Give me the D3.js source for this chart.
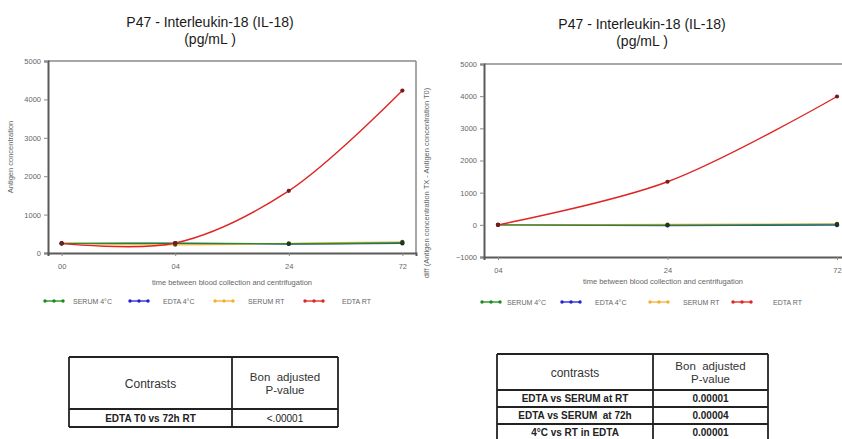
<!DOCTYPE html>
<html>
<head>
<meta charset="utf-8">
<script src="https://cdn.jsdelivr.net/npm/d3@7"></script>
<style>
  html, body { margin: 0; padding: 0; background: #fff; }
  svg { display: block; font-family: "Liberation Sans", Arial, sans-serif; }
</style>
</head>
<body>
<svg id="chart" width="842" height="439"></svg>
<script>
// ---------- DATA ----------
const seriesNames = ["SERUM 4°C", "EDTA 4°C", "SERUM RT", "EDTA RT"];
const seriesColors = ["#1a8a1a", "#1f1fd6", "#f2b134", "#e02424"];
const markerColors = ["#1e3a1e", "#1e1e55", "#5a4a1a", "#7a1a1a"];

// Left chart: raw concentrations
const leftTimes = ["00", "04", "24", "72"];
const leftSerum4C = [250, 255, 240, 265];
const leftEdta4C = [245, 250, 235, 250];
const leftSerumRT = [255, 215, 250, 290];
const leftEdtaRT = [250, 260, 1620, 4230];
const leftYTicks = [0, 1000, 2000, 3000, 4000, 5000];

// Right chart: difference from T0
const rightTimes = ["04", "24", "72"];
const rightSerum4C = [0, -10, 15];
const rightEdta4C = [0, -20, -10];
const rightSerumRT = [0, 10, 30];
const rightEdtaRT = [0, 1340, 3990];
const rightYTicks = [-1000, 0, 1000, 2000, 3000, 4000, 5000];

// Tables
const leftTableHeader = ["Contrasts", "Bon  adjusted", "P-value"];
const leftTableRows = [["EDTA T0 vs 72h RT", "<.00001"]];
const rightTableHeader = ["contrasts", "Bon  adjusted", "P-value"];
const rightTableRows = [
  ["EDTA vs SERUM at RT", "0.00001"],
  ["EDTA vs SERUM  at 72h", "0.00004"],
  ["4°C vs RT in EDTA", "0.00001"]
];

const svg = d3.select("#chart");

function drawChart(cfg) {
  const g = svg.append("g");
  const x = d3.scalePoint().domain(cfg.times).range([cfg.left, cfg.right]).padding(cfg.pad);
  const y = d3.scaleLinear().domain(cfg.yDomain).range([cfg.bottom, cfg.top]);

  // titles
  g.append("text").attr("x", cfg.titleX).attr("y", cfg.titleY)
    .attr("text-anchor", "middle").attr("font-size", 14).attr("fill", "#1a1a1a")
    .text("P47 - Interleukin-18 (IL-18)");
  g.append("text").attr("x", cfg.titleX).attr("y", cfg.titleY + 17)
    .attr("text-anchor", "middle").attr("font-size", 14).attr("fill", "#1a1a1a")
    .text("(pg/mL )");

  // frame top & right
  g.append("line").attr("x1", cfg.left).attr("x2", cfg.right).attr("y1", cfg.top).attr("y2", cfg.top)
    .attr("stroke", "#8a8a8a").attr("stroke-width", 1.5);
  g.append("line").attr("x1", cfg.right).attr("x2", cfg.right).attr("y1", cfg.top).attr("y2", cfg.bottom)
    .attr("stroke", "#8a8a8a").attr("stroke-width", 1.5);

  // axes
  const yAxis = d3.axisLeft(y).tickValues(cfg.yTicks).tickSize(4).tickPadding(3).tickFormat(d3.format("d"));
  const ya = g.append("g").attr("transform", `translate(${cfg.left},0)`).call(yAxis);
  const xAxis = d3.axisBottom(x).tickSize(3).tickPadding(8);
  const xa = g.append("g").attr("transform", `translate(0,${cfg.bottom})`).call(xAxis);
  [ya, xa].forEach(a => {
    a.select(".domain").attr("stroke", "#5a5a5a").attr("stroke-width", 2);
    a.selectAll(".tick line").attr("stroke", "#8a8a8a");
    a.selectAll(".tick text").attr("fill", "#666").attr("font-size", 7.5)
      .attr("font-family", "'Liberation Sans', Arial, sans-serif");
  });

  // axis titles
  g.append("text").attr("transform", `translate(${cfg.yTitleX},${cfg.yTitleY}) rotate(-90)`)
    .attr("text-anchor", "middle").attr("font-size", 7.5).attr("fill", "#666").text(cfg.yTitle);
  g.append("text").attr("x", (cfg.left + Math.min(cfg.right, 842)) / 2 + cfg.xTitleDx).attr("y", cfg.xTitleY)
    .attr("text-anchor", "middle").attr("font-size", 7.5).attr("fill", "#666")
    .text("time between blood collection and centrifugation");

  // lines
  const line = d3.line().x((d, i) => x(cfg.times[i])).y(d => y(d)).curve(d3.curveCatmullRom.alpha(0.5));
  const order = [1, 2, 0, 3];
  order.forEach(si => {
    g.append("path").attr("d", line(cfg.series[si])).attr("fill", "none")
      .attr("stroke", seriesColors[si]).attr("stroke-width", 1.4).attr("stroke-opacity", si === 3 ? 1 : 0.85);
  });
  order.forEach(si => {
    g.selectAll(null).data(cfg.series[si]).enter().append("circle")
      .attr("cx", (d, i) => x(cfg.times[i])).attr("cy", d => y(d)).attr("r", 2.1)
      .attr("fill", markerColors[si]);
  });

  // legend
  const lg = g.append("g");
  seriesNames.forEach((name, i) => {
    const lx = cfg.legendX[i];
    const ly = cfg.legendY;
    lg.append("line").attr("x1", lx).attr("x2", lx + 18).attr("y1", ly).attr("y2", ly)
      .attr("stroke", seriesColors[i]).attr("stroke-width", 1.3);
    [0, 9, 18].forEach(dx => lg.append("circle").attr("cx", lx + dx).attr("cy", ly).attr("r", 1.7)
      .attr("fill", seriesColors[i]));
    lg.append("text").attr("x", cfg.legendTextX[i]).attr("y", ly + 2.5)
      .attr("font-size", 7).attr("fill", "#666").text(name);
  });
}

drawChart({
  times: leftTimes,
  series: [leftSerum4C, leftEdta4C, leftSerumRT, leftEdtaRT],
  yDomain: [0, 5000], yTicks: leftYTicks,
  left: 48, right: 416, top: 61, bottom: 253, pad: 0.12,
  titleX: 210, titleY: 27,
  yTitle: "Antigen concentration", yTitleX: 13, yTitleY: 157,
  xTitleY: 285, xTitleDx: 0,
  legendY: 301,
  legendX: [45, 130, 215, 305],
  legendTextX: [73, 163, 248, 342]
});

drawChart({
  times: rightTimes,
  series: [rightSerum4C, rightEdta4C, rightSerumRT, rightEdtaRT],
  yDomain: [-1000, 5000], yTicks: rightYTicks,
  left: 484, right: 851, top: 64, bottom: 257, pad: 0.0826,
  titleX: 642, titleY: 29,
  yTitle: "diff (Antigen concentration TX - Antigen concentration T0)", yTitleX: 429, yTitleY: 183,
  xTitleY: 284, xTitleDx: 0,
  legendY: 302,
  legendX: [482, 562, 650, 733],
  legendTextX: [507, 595, 683, 773]
});

// ---------- TABLES ----------
function drawTable(cfg) {
  const g = svg.append("g");
  const nRows = cfg.rows.length;
  const yLines = [cfg.top, cfg.headerBottom];
  for (let i = 1; i <= nRows; i++) yLines.push(cfg.headerBottom + i * cfg.rowH);
  const bottom = yLines[yLines.length - 1];
  yLines.forEach(yy => g.append("line").attr("x1", cfg.x0).attr("x2", cfg.x2).attr("y1", yy).attr("y2", yy)
    .attr("stroke", "#222").attr("stroke-width", 1.8));
  [cfg.x0, cfg.x1, cfg.x2].forEach(xx => g.append("line").attr("x1", xx).attr("x2", xx)
    .attr("y1", cfg.top).attr("y2", bottom).attr("stroke", "#222").attr("stroke-width", 1.8));

  const c1 = (cfg.x0 + cfg.x1) / 2, c2 = (cfg.x1 + cfg.x2) / 2;
  const hMid = (cfg.top + cfg.headerBottom) / 2;
  g.append("text").attr("x", c1).attr("y", hMid + 4.5).attr("text-anchor", "middle")
    .attr("font-size", 12).attr("fill", "#333").text(cfg.header[0]);
  g.append("text").attr("x", c2).attr("y", hMid - 2).attr("text-anchor", "middle")
    .attr("font-size", 11.5).attr("fill", "#333").style("white-space", "pre").text(cfg.header[1]);
  g.append("text").attr("x", c2).attr("y", hMid + 10.5).attr("text-anchor", "middle")
    .attr("font-size", 11.5).attr("fill", "#333").text(cfg.header[2]);

  cfg.rows.forEach((r, i) => {
    const yy = cfg.headerBottom + i * cfg.rowH + cfg.rowH / 2 + 3.6;
    g.append("text").attr("x", c1).attr("y", yy).attr("text-anchor", "middle")
      .attr("font-size", 10).attr("font-weight", "bold").attr("fill", "#222")
      .style("white-space", "pre").text(r[0]);
    g.append("text").attr("x", c2).attr("y", yy).attr("text-anchor", "middle")
      .attr("font-size", 10).attr("font-weight", cfg.boldValues ? "bold" : "normal").attr("fill", "#222").text(r[1]);
  });
}

drawTable({
  header: leftTableHeader, rows: leftTableRows,
  x0: 69, x1: 232, x2: 338, top: 357, headerBottom: 409, rowH: 18, boldValues: false
});
drawTable({
  header: rightTableHeader, rows: rightTableRows,
  x0: 497, x1: 653, x2: 768, top: 354, headerBottom: 390, rowH: 17, boldValues: true
});
</script>
</body>
</html>
